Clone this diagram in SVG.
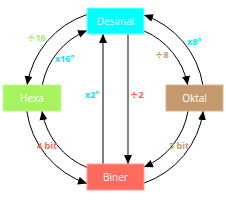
<svg xmlns="http://www.w3.org/2000/svg" width="226" height="223" viewBox="0 0 226 223">
<style>
.node text{font-family:"Open Sans","Liberation Sans",sans-serif;font-size:10px;fill:#fff;text-anchor:middle}
.arc{fill:none;stroke:#000;stroke-width:1}
.lbl{font-family:"Open Sans","Liberation Sans",sans-serif;font-size:9px;font-weight:bold}
.sup{font-size:6px}
.dv{font-family:"DejaVu Sans",sans-serif;font-size:10px}
</style>
<defs>
<marker id="ah" markerUnits="userSpaceOnUse" markerWidth="10" markerHeight="9" refX="9" refY="4" orient="auto">
<path d="M0,0 L9,4 L0,8 z" fill="#000"/>
</marker>
</defs>
<rect width="226" height="223" fill="#fff"/>
<g id="connectors">
<path class="arc" d="M87,14.5 A89,89 0 0 0 27.1,85" marker-end="url(#ah)"/>
<path class="arc" d="M42.3,85 A74,74 0 0 1 87,30.5" marker-end="url(#ah)"/>
<path class="arc" d="M202.9,85 A89,89 0 0 0 144,15" marker-end="url(#ah)"/>
<path class="arc" d="M144,30.9 A74,74 0 0 1 187.7,85" marker-end="url(#ah)"/>
<path class="arc" d="M26.8,111 A89,89 0 0 0 87,183.5" marker-end="url(#ah)"/>
<path class="arc" d="M87,167.5 A74,74 0 0 1 42,111" marker-end="url(#ah)"/>
<path class="arc" d="M188,111 A74,74 0 0 1 144,167.1" marker-end="url(#ah)"/>
<path class="arc" d="M144,183.1 A89,89 0 0 0 203.2,111" marker-end="url(#ah)"/>
<path d="M103,164 L103,34" fill="none" stroke="#000" stroke-width="1" marker-end="url(#ah)"/>
<path d="M128,34 L128,164" fill="none" stroke="#666" stroke-width="1.6" marker-end="url(#ah)"/>
</g>
<g id="labels">
<text class="lbl" x="27" y="41" fill="#9df25a"><tspan class="dv">÷</tspan>16</text>
<text class="lbl" x="55" y="62" fill="#00e8ff">x16<tspan class="sup" dy="-4">n</tspan></text>
<text class="lbl" x="187" y="45" fill="#00e8ff">x8<tspan class="sup" dy="-4">n</tspan></text>
<text class="lbl" x="155" y="58" fill="#c49a6c"><tspan class="dv">÷</tspan>8</text>
<text class="lbl" x="85" y="98" fill="#00e8ff">x2<tspan class="sup" dy="-4">n</tspan></text>
<text class="lbl" x="130" y="98" fill="#ff5a5a"><tspan class="dv">÷</tspan>2</text>
<text class="lbl" x="37" y="149" fill="#ff6a5e">4 bit</text>
<text class="lbl" x="169" y="149" fill="#c49a6c">3 bit</text>
</g>
<g id="desimal" class="node">
<rect x="87" y="8" width="57" height="26" fill="#00ffff" stroke="#80ffff"/>
<text x="115.5" y="25">Desimal</text>
</g>
<g id="hexa" class="node">
<rect x="3" y="85" width="58" height="26" fill="#a6f35d" stroke="#c4f79a"/>
<text x="32" y="102">Hexa</text>
</g>
<g id="oktal" class="node">
<rect x="166" y="85" width="57" height="26" fill="#c49a6c" stroke="#d6b898"/>
<text x="194.5" y="102">Oktal</text>
</g>
<g id="biner" class="node">
<rect x="87" y="164" width="57" height="26" fill="#ff6a5e" stroke="#ff9d95"/>
<text x="115.5" y="181">Biner</text>
</g>
</svg>
